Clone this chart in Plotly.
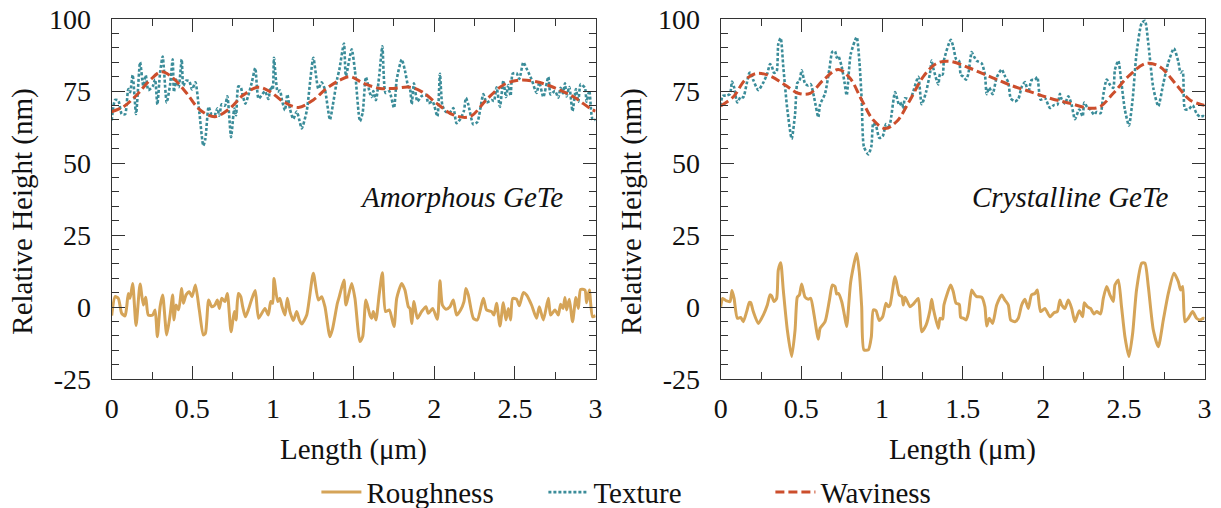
import plotly.graph_objects as go

FONT = "Liberation Serif"
C_ROUGH = "#D5A458"
C_TEX = "#3A8C99"
C_WAV = "#CC4E2C"
AXC = "#333333"

# ---------------- Amorphous GeTe (left panel) ----------------
am_x = [0.000, 0.021, 0.041, 0.062, 0.083, 0.093, 0.103, 0.114, 0.130, 0.151,
        0.176, 0.196, 0.211, 0.227, 0.254, 0.269, 0.283, 0.300, 0.316, 0.341,
        0.362, 0.378, 0.386, 0.399, 0.415, 0.434, 0.444, 0.461, 0.481, 0.498,
        0.519, 0.543, 0.568, 0.581, 0.601, 0.620, 0.640, 0.655, 0.667, 0.682,
        0.702, 0.717, 0.740, 0.760, 0.771, 0.785, 0.800, 0.812, 0.829, 0.847,
        0.868, 0.890, 0.911, 0.950, 0.971, 0.986, 0.998, 1.006, 1.029, 1.043,
        1.056, 1.074, 1.089, 1.105, 1.126, 1.147, 1.163, 1.178, 1.209, 1.250,
        1.281, 1.302, 1.322, 1.353, 1.370, 1.399, 1.411, 1.440, 1.452, 1.488,
        1.508, 1.539, 1.556, 1.576, 1.601, 1.612, 1.622, 1.638, 1.659, 1.678,
        1.698, 1.721, 1.750, 1.767, 1.798, 1.818, 1.839, 1.849, 1.860, 1.874,
        1.895, 1.921, 1.948, 1.963, 1.990, 2.019, 2.035, 2.050, 2.072, 2.097,
        2.118, 2.138, 2.163, 2.184, 2.196, 2.211, 2.242, 2.267, 2.304, 2.324,
        2.355, 2.370, 2.386, 2.407, 2.428, 2.444, 2.459, 2.473, 2.486, 2.510,
        2.527, 2.552, 2.572, 2.603, 2.634, 2.651, 2.676, 2.707, 2.721, 2.748,
        2.769, 2.783, 2.798, 2.810, 2.820, 2.837, 2.857, 2.878, 2.893, 2.907,
        2.934, 2.944, 2.961, 2.981, 3.000]

am_roughness = [-3.0, 3.6, 3.0, -2.2, -3.1, 0.1, 4.7, 3.0, 8.2, -6.4,
                8.0, 0.7, 3.4, -2.8, -2.8, -1.0, -10.3, 0.1, 4.2, -9.7,
                -2.8, 4.2, -4.5, 0.7, -1.0, 6.4, 1.3, 4.2, 5.3, 3.6,
                7.6, -1.0, -9.7, -9.1, 2.4, 0.1, 0.7, 2.4, -0.5, 3.0,
                1.9, 4.7, -8.6, -1.6, -4.5, 4.7, 3.6, 0.1, -3.4, -1.0,
                2.7, 5.7, -3.9, -0.5, -2.8, 1.9, 1.3, 9.9, 1.9, 3.0,
                0.1, -2.8, 3.0, -1.6, -4.7, -1.6, -4.5, -5.9, -2.8, 11.7,
                2.4, 3.6, 0.1, -10.3, -7.4, 1.3, 3.6, 9.4, 0.7, 8.2,
                3.0, -12.0, -10.3, 2.4, -2.8, -3.9, -1.6, -4.5, 4.7, 11.9,
                -1.6, -1.0, -6.8, 3.0, 8.2, 5.9, 0.1, -0.5, -5.7, 1.9,
                -3.9, -1.6, 0.1, -2.2, -0.5, -4.3, 9.1, 0.7, -0.8, 0.1,
                2.4, -2.8, -1.0, 1.9, 6.4, 4.2, -3.9, -4.5, 3.0, -1.0,
                -1.6, -2.8, 1.3, -6.6, 1.5, -4.5, -0.5, -4.5, 3.0, 2.7,
                0.4, 5.0, 4.2, 0.7, -3.9, 0.1, -4.5, 3.0, -2.8, -1.0,
                -2.8, 1.0, -0.5, 3.3, -1.0, 2.7, -5.1, 3.3, -0.5, 6.1,
                5.9, 1.5, 5.9, -3.4, -3.0]

am_texture = [64.8, 71.9, 71.7, 67.0, 66.9, 70.6, 75.7, 74.6, 80.6, 67.0,
              85.0, 76.8, 80.5, 75.3, 76.6, 79.0, 70.3, 81.4, 87.0, 71.0,
              77.2, 86.0, 74.7, 79.0, 76.3, 86.0, 76.8, 78.6, 78.4, 75.5,
              78.0, 67.7, 56.0, 58.5, 69.5, 66.7, 66.8, 69.0, 66.4, 70.4,
              69.9, 73.2, 59.0, 68.9, 66.6, 76.6, 76.3, 73.5, 70.6, 73.5,
              77.8, 83.0, 72.4, 74.9, 72.2, 76.5, 75.4, 86.5, 74.7, 75.2,
              71.7, 68.3, 73.8, 68.8, 65.3, 67.9, 65.0, 62.0, 68.0, 86.5,
              75.8, 78.0, 75.5, 65.0, 69.8, 79.5, 82.3, 91.5, 80.2, 89.5,
              82.1, 64.5, 67.5, 79.8, 74.2, 72.9, 75.0, 71.8, 80.6, 90.5,
              74.3, 74.9, 69.1, 79.0, 86.0, 82.1, 76.4, 75.8, 70.4, 77.7,
              71.4, 73.2, 73.7, 70.8, 71.3, 66.2, 81.0, 70.0, 67.7, 67.6,
              69.1, 63.8, 65.4, 68.2, 72.6, 70.3, 63.4, 64.2, 73.9, 71.0,
              71.9, 71.5, 76.3, 69.5, 78.6, 72.9, 77.1, 73.3, 81.0, 81.2,
              79.2, 85.0, 82.8, 79.1, 74.3, 78.0, 72.9, 79.9, 73.8, 75.0,
              72.7, 76.1, 74.2, 77.7, 73.1, 76.4, 68.0, 75.7, 71.3, 77.4,
              76.1, 71.3, 75.1, 65.1, 65.0]

am_wav_x = [0.000, 0.072, 0.155, 0.238, 0.310, 0.382, 0.465, 0.548, 0.640, 0.733,
            0.816, 0.909, 0.981, 1.064, 1.157, 1.250, 1.333, 1.415, 1.477, 1.560,
            1.663, 1.746, 1.849, 1.921, 2.015, 2.118, 2.221, 2.322, 2.428, 2.531,
            2.634, 2.738, 2.862, 2.965, 3.000]
am_waviness = [67.8, 69.5, 73.6, 78.8, 81.7, 79.4, 74.2, 68.4, 66.1, 69.0,
               73.6, 76.3, 74.8, 71.3, 69.3, 71.9, 75.9, 78.8, 80.0, 77.7,
               75.9, 75.9, 76.3, 74.8, 70.7, 66.7, 66.1, 71.9, 77.1, 78.8,
               78.2, 76.3, 73.0, 69.0, 68.0]

# ---------------- Crystalline GeTe (right panel) ----------------
cr_x = [0.000, 0.012, 0.037, 0.058, 0.070, 0.083, 0.103, 0.124, 0.140, 0.161,
        0.178, 0.186, 0.202, 0.233, 0.264, 0.289, 0.306, 0.316, 0.331, 0.347,
        0.357, 0.372, 0.388, 0.413, 0.440, 0.461, 0.475, 0.488, 0.502, 0.523,
        0.543, 0.558, 0.579, 0.605, 0.616, 0.647, 0.674, 0.692, 0.709, 0.719,
        0.729, 0.750, 0.767, 0.781, 0.806, 0.843, 0.860, 0.874, 0.888, 0.915,
        0.934, 0.946, 0.963, 0.983, 1.004, 1.025, 1.039, 1.050, 1.081, 1.107,
        1.124, 1.132, 1.143, 1.174, 1.194, 1.225, 1.246, 1.273, 1.298, 1.308,
        1.318, 1.349, 1.360, 1.376, 1.384, 1.426, 1.442, 1.459, 1.479, 1.488,
        1.504, 1.521, 1.535, 1.556, 1.570, 1.587, 1.618, 1.638, 1.649, 1.665,
        1.686, 1.711, 1.742, 1.762, 1.783, 1.798, 1.824, 1.845, 1.866, 1.886,
        1.907, 1.927, 1.948, 1.963, 1.983, 2.010, 2.041, 2.066, 2.087, 2.103,
        2.114, 2.134, 2.155, 2.176, 2.196, 2.223, 2.244, 2.254, 2.273, 2.293,
        2.314, 2.331, 2.355, 2.372, 2.393, 2.413, 2.434, 2.444, 2.465, 2.485,
        2.506, 2.531, 2.554, 2.578, 2.610, 2.630, 2.651, 2.682, 2.713, 2.744,
        2.775, 2.810, 2.837, 2.851, 2.864, 2.878, 2.899, 2.926, 2.950, 2.971,
        2.992, 3.000]

cr_roughness = [0.1, 3.0, 2.1, 1.9, 5.7, 3.0, -3.9, -3.6, -5.1, -1.6,
                1.6, 1.5, -1.6, -5.7, -2.8, 0.7, 4.2, 3.8, 1.9, 3.0,
                12.8, 15.4, 5.9, -8.0, -17.2, -8.0, 3.4, 4.2, 8.0, 3.4,
                2.7, 3.0, -2.8, -11.2, -7.4, -5.1, 2.4, 7.6, 7.1, 4.5,
                4.7, 1.9, -2.8, -6.8, 8.8, 18.6, 11.7, 0.1, -14.9, -14.9,
                -10.3, -1.0, -1.3, -4.7, -3.4, 1.3, 0.1, 0.7, 10.5, 4.2,
                3.6, 0.7, 3.4, 0.1, 1.0, 3.0, -8.6, -6.3, -1.0, 2.7,
                -0.5, -7.4, -3.9, -4.2, 0.7, 7.6, 5.3, 1.3, 0.9, -3.6,
                -3.9, -4.5, -2.2, 5.9, 4.7, 3.6, 3.4, 0.1, -6.6, -3.9,
                -5.7, 0.7, 4.2, 2.4, 0.7, -4.5, -5.1, -3.9, 0.7, 2.7,
                -0.5, 4.2, 4.7, 5.9, -1.6, -0.5, -3.4, -2.0, -1.6, 2.4,
                0.7, -0.5, 2.4, -0.5, -5.1, -1.3, -3.4, 1.5, 0.1, -0.5,
                -2.4, -1.6, -2.4, 3.0, 7.1, 4.2, 1.9, 7.6, 9.4, 0.1,
                -10.3, -17.2, -9.1, 5.9, 15.2, 15.2, 7.1, -8.0, -13.8, -4.5,
                4.7, 11.7, 8.8, 5.9, 7.1, -5.1, -3.9, -1.6, -3.9, -4.5,
                -3.9, -4.0]

cr_texture = [69.9, 73.3, 73.4, 74.0, 78.3, 76.3, 71.0, 73.0, 72.8, 77.5,
              81.3, 81.4, 78.8, 75.3, 77.9, 81.1, 84.4, 83.7, 81.3, 81.8,
              91.3, 93.4, 83.4, 68.6, 58.4, 66.9, 77.8, 78.4, 82.2, 77.6,
              76.9, 77.4, 72.8, 65.9, 70.3, 74.1, 82.7, 88.6, 88.8, 86.6,
              87.2, 83.5, 78.1, 73.5, 87.8, 93.7, 85.1, 72.0, 55.6, 53.0,
              55.8, 63.9, 62.9, 58.7, 59.2, 63.5, 62.8, 63.7, 74.6, 70.1,
              71.0, 68.8, 72.5, 72.0, 74.9, 79.9, 70.4, 74.6, 81.3, 85.6,
              82.9, 77.3, 80.9, 80.7, 85.7, 92.8, 90.4, 86.1, 85.3, 80.6,
              80.0, 78.9, 80.9, 88.5, 87.0, 85.5, 84.6, 80.8, 73.9, 76.2,
              73.9, 79.7, 82.5, 80.2, 78.0, 72.5, 71.4, 72.2, 76.4, 78.1,
              74.5, 78.8, 78.9, 79.8, 72.0, 72.6, 69.1, 70.1, 70.2, 74.0,
              72.1, 70.6, 73.2, 70.1, 65.2, 68.6, 66.2, 71.0, 69.3, 68.5,
              66.8, 67.7, 67.3, 73.7, 79.0, 77.2, 76.1, 82.4, 85.5, 77.5,
              68.4, 63.0, 72.2, 88.1, 98.6, 99.4, 91.5, 76.0, 69.7, 77.6,
              84.9, 89.8, 85.2, 81.4, 81.8, 68.7, 68.6, 70.0, 67.2, 66.1,
              66.3, 66.0]

cr_wav_x = [0.000, 0.079, 0.151, 0.223, 0.306, 0.399, 0.481, 0.554, 0.636, 0.729,
            0.802, 0.874, 0.946, 1.019, 1.091, 1.174, 1.256, 1.339, 1.421, 1.545,
            1.669, 1.793, 1.917, 2.041, 2.165, 2.289, 2.351, 2.434, 2.537, 2.640,
            2.723, 2.826, 2.909, 3.000]
cr_waviness = [69.8, 73.0, 78.8, 81.1, 80.2, 77.1, 74.2, 74.2, 78.8, 82.5,
               79.4, 71.9, 64.9, 62.0, 64.4, 71.9, 80.0, 84.6, 85.3, 82.9,
               80.0, 77.1, 74.8, 72.5, 70.7, 69.0, 69.5, 74.2, 80.6, 84.6,
               83.4, 77.1, 71.9, 70.0]

x_ticks = [0, 0.5, 1, 1.5, 2, 2.5, 3]
x_ticktext = ["0", "0.5", "1", "1.5", "2", "2.5", "3"]
y_ticks = [-25, 0, 25, 50, 75, 100]
y_ticktext = ["-25", "0", "25", "50", "75", "100"]
series_names = ["Roughness", "Texture", "Waviness"]
panel_labels = ["Amorphous GeTe", "Crystalline GeTe"]

fig = go.Figure()

panels = [
    ("x", "y", am_x, am_roughness, am_texture, am_wav_x, am_waviness, True),
    ("x2", "y2", cr_x, cr_roughness, cr_texture, cr_wav_x, cr_waviness, False),
]
for xa, ya, xs, rough, tex, wx, wav, show in panels:
    fig.add_trace(go.Scatter(x=xs, y=rough, mode="lines", name=series_names[0],
                             xaxis=xa, yaxis=ya, showlegend=show, legendgroup="r",
                             line=dict(color=C_ROUGH, width=3.0, shape="spline", smoothing=0.6)))
    fig.add_trace(go.Scatter(x=xs, y=tex, mode="lines", name=series_names[1],
                             xaxis=xa, yaxis=ya, showlegend=show, legendgroup="t",
                             line=dict(color=C_TEX, width=2.6, dash="3px,2px",
                                       shape="spline", smoothing=0.6)))
    fig.add_trace(go.Scatter(x=wx, y=wav, mode="lines", name=series_names[2],
                             xaxis=xa, yaxis=ya, showlegend=show, legendgroup="w",
                             line=dict(color=C_WAV, width=3.0, dash="9px,4px",
                                       shape="spline", smoothing=1.0)))

W, H = 1221, 508
xdom1 = [111.7 / W, 595.6 / W]
xdom2 = [720.7 / W, 1204.6 / W]
ydom = [(H - 379) / H, (H - 19) / H]

common = dict(showline=True, linecolor=AXC, linewidth=1.2, mirror="ticks",
              ticks="inside", ticklen=13, tickwidth=1.2, tickcolor=AXC,
              showgrid=False, zeroline=False,
              tickfont=dict(family=FONT, size=28, color="#111"))

def xaxis(dom, anchor):
    return dict(common, domain=dom, anchor=anchor, range=[0, 3],
                tickmode="array", tickvals=x_ticks, ticktext=x_ticktext,
                ticklabelstandoff=4,
                minor=dict(tickmode="linear", tick0=0, dtick=0.25, ticks="inside",
                           ticklen=7, tickwidth=1.2, tickcolor=AXC, showgrid=False))

def yaxis(anchor):
    return dict(common, domain=ydom, anchor=anchor, range=[-25, 100],
                tickmode="array", tickvals=y_ticks, ticktext=y_ticktext,
                ticklabelstandoff=14,
                minor=dict(tickmode="linear", tick0=0, dtick=5, ticks="inside",
                           ticklen=7, tickwidth=1.2, tickcolor=AXC, showgrid=False))

fig.update_layout(
    width=W, height=H,
    margin=dict(l=0, r=0, t=0, b=0, autoexpand=False),
    paper_bgcolor="white", plot_bgcolor="white",
    font=dict(family=FONT, size=28, color="#111"),
    xaxis=xaxis(xdom1, "y"), yaxis=yaxis("x"),
    xaxis2=xaxis(xdom2, "y2"), yaxis2=yaxis("x2"),
    showlegend=True,
    legend=dict(orientation="h", x=0.538, xanchor="center", y=0.031, yanchor="middle",
                font=dict(family=FONT, size=29, color="#111"),
                itemwidth=40, entrywidth=172, traceorder="normal",
                bgcolor="rgba(0,0,0,0)"),
)

ann = []
for dom, lbl_right, label in [(xdom1, 565, panel_labels[0]), (xdom2, 1170, panel_labels[1])]:
    cx = (dom[0] + dom[1]) / 2
    ann.append(dict(text="Length (μm)", xref="paper", yref="paper", x=cx, y=(H - 449) / H,
                    xanchor="center", yanchor="middle", showarrow=False,
                    font=dict(family=FONT, size=29, color="#111")))
    ann.append(dict(text="Relative Height (nm)", xref="paper", yref="paper",
                    x=(dom[0] * W - 90) / W, y=(H - 212) / H, textangle=-90,
                    xanchor="center", yanchor="middle", showarrow=False,
                    font=dict(family=FONT, size=29, color="#111")))
    ann.append(dict(text="<i>" + label + "</i>", xref="paper", yref="paper",
                    x=lbl_right / W, y=(H - 197) / H, xanchor="right", yanchor="middle",
                    showarrow=False, font=dict(family=FONT, size=29, color="#111")))
fig.update_layout(annotations=ann)

fig.write_html("out.html", config={"displayModeBar": False},
               post_script="document.body.style.margin='0px';document.body.style.overflow='hidden';")
